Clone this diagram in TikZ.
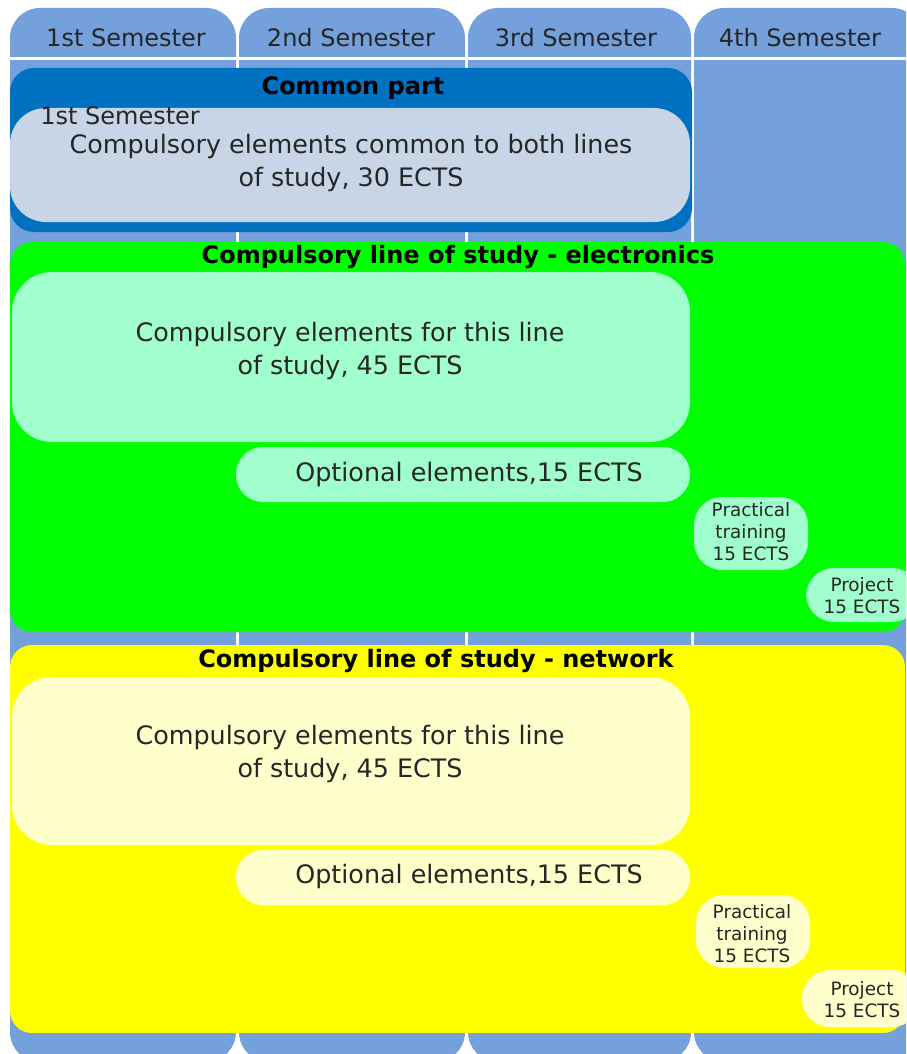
\documentclass[tikz,border=0pt]{standalone}
\usepackage{fontspec}
\setmainfont{DejaVu Sans}
\usepackage{tikz}
\definecolor{semblue}{RGB}{116, 160, 220}
\definecolor{commonblue}{RGB}{0, 112, 192}
\definecolor{commongrey}{RGB}{200, 213, 230}
\definecolor{elecgreen}{RGB}{0, 255, 0}
\definecolor{elecmint}{RGB}{160, 255, 204}
\definecolor{netyellow}{RGB}{255, 255, 0}
\definecolor{netcream}{RGB}{255, 255, 204}

\begin{document}
\begin{tikzpicture}[x=0.5pt, y=-0.5pt,
        semtext/.style={font=\fontsize{12}{14}\selectfont, text=black!85},
        bandtitle/.style={font=\bfseries\fontsize{12}{14}\selectfont},
        bodytext/.style={font=\fontsize{12.7}{16.5}\selectfont, align=center, text=black!85},
        smalltext/.style={font=\fontsize{9.2}{11}\selectfont, align=center, inner sep=0pt, text=black!85}]
        \useasboundingbox (0,0) rectangle (906,1054);
        \clip (0,0) rectangle (906,1054);

        % Semester columns
        \fill[semblue, rounded corners=15pt] (10,8) rectangle (236,1062);
        \fill[semblue, rounded corners=15pt] (239,8) rectangle (465,1062);
        \fill[semblue, rounded corners=15pt] (468,8) rectangle (691,1062);
        \fill[semblue, rounded corners=15pt] (694,8) rectangle (922,1062);
        \draw[white, line width=1.5pt] (10,59) -- (906,59);
        \node[semtext] (sem1) at (126,38) {1st Semester};
        \node[semtext] (sem2) at (351,38) {2nd Semester};
        \node[semtext] (sem3) at (576,38) {3rd Semester};
        \node[semtext] (sem4) at (800,38) {4th Semester};

        % Common part
        \fill[commonblue, rounded corners=12pt] (10,68) rectangle (692,232);
        \fill[commongrey, rounded corners=18pt] (10,108) rectangle (690,222);
        \node[bandtitle] (common) at (353,88) {Common part};
        \node[semtext, anchor=west, inner sep=0pt] (commonsem) at (40,116) {1st Semester};
        \node[bodytext] (commonbody) at (351,163)
            {Compulsory elements common to both lines\\of study, 30 ECTS};

        % Line of study: electronics
        \fill[elecgreen, rounded corners=11pt] (10,242) rectangle (905,632);
        \fill[elecmint, rounded corners=20pt] (12,272) rectangle (690,442);
        \fill[elecmint, rounded corners=13.5pt] (236,447) rectangle (690,502);
        \fill[elecmint, rounded corners=14pt] (694,497) rectangle (808,570);
        \fill[elecmint, rounded corners=14pt] (806,568) rectangle (920,622);
        \node[bandtitle] (elec) at (458,257) {Compulsory line of study - electronics};
        \node[bodytext] (elecbody) at (350,351)
            {Compulsory elements for this line\\of study, 45 ECTS};
        \node[bodytext] (elecopt) at (469,474) {Optional elements,15 ECTS};
        \node[smalltext] (elecprac) at (751,532) {Practical\\training\\15 ECTS};
        \node[smalltext] (elecproj) at (862,596) {Project\\15 ECTS};

        % Line of study: network
        \fill[netyellow, rounded corners=11pt] (10,645) rectangle (905,1033);
        \fill[netcream, rounded corners=20pt] (12,677) rectangle (690,845);
        \fill[netcream, rounded corners=13.5pt] (236,850) rectangle (690,905);
        \fill[netcream, rounded corners=14pt] (696,895) rectangle (810,968);
        \fill[netcream, rounded corners=14pt] (802,970) rectangle (920,1027);
        \node[bandtitle] (net) at (436,661) {Compulsory line of study - network};
        \node[bodytext] (netbody) at (350,754)
            {Compulsory elements for this line\\of study, 45 ECTS};
        \node[bodytext] (netopt) at (469,876) {Optional elements,15 ECTS};
        \node[smalltext] (netprac) at (752,934) {Practical\\training\\15 ECTS};
        \node[smalltext] (netproj) at (862,1000) {Project\\15 ECTS};
    \end{tikzpicture}
\end{document}
